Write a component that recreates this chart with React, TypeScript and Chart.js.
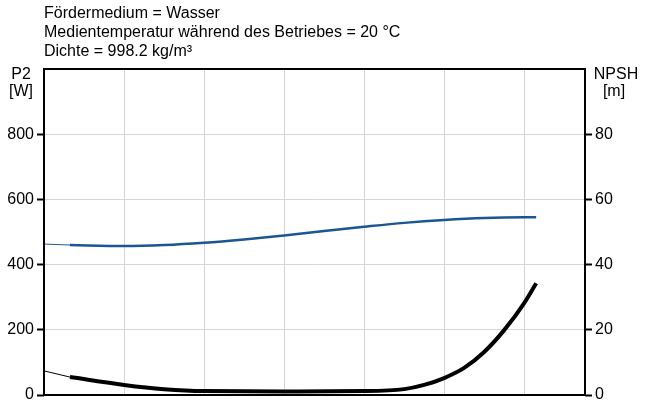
import React, { useEffect, useRef } from "react";
import { Chart, registerables } from "chart.js";

Chart.register(...registerables);

const titleLines = [
  "Fördermedium = Wasser",
  "Medientemperatur während des Betriebes = 20 °C",
  "Dichte = 998.2 kg/m³",
];

// flow axis (unlabelled) positions
const p2X = [0.325, 1, 1.5, 2, 2.5, 3, 3.5, 4, 4.5, 5, 5.5, 6, 6.15];
const p2Y = [460, 457, 460, 467, 477, 489, 503, 516, 528, 537, 543, 545, 545];
const p2ExtX = [0, 0.325];
const p2ExtY = [463, 460];

const npshX = [0.325, 1, 1.5, 2, 3, 4, 4.5, 4.75, 5, 5.25, 5.5, 5.75, 6, 6.15];
const npshY = [5.5, 3.1, 1.8, 1.2, 1.1, 1.2, 1.8, 3.1, 5.2, 8.3, 13.2, 19.9, 28.2, 34.3];
const npshExtX = [0, 0.325];
const npshExtY = [7.4, 5.5];

const xMax = 6.76;
const p2Max = 1000;
const npshMax = 100;

const zip = (xs: number[], ys: number[]) => xs.map((x, i) => ({ x, y: ys[i] }));

const FONT = "Liberation Sans, Arial, sans-serif";

const overlayPlugin = {
  id: "overlay",
  afterDatasetsDraw(chart: any) {
    const { ctx, chartArea } = chart;
    ctx.save();
    ctx.strokeStyle = "#000";
    ctx.lineWidth = 2;
    ctx.strokeRect(chartArea.left, chartArea.top, chartArea.right - chartArea.left, chartArea.bottom - chartArea.top);
    ctx.restore();
  },
  afterDraw(chart: any) {
    const { ctx, chartArea } = chart;
    ctx.save();
    ctx.fillStyle = "#000";
    ctx.font = `16px ${FONT}`;
    ctx.textBaseline = "middle";
    ctx.textAlign = "left";
    titleLines.forEach((t, i) => ctx.fillText(t, chartArea.left, 13.5 + i * 18.8));
    ctx.textAlign = "center";
    ctx.fillText("P2", 21, 75);
    ctx.fillText("[W]", 21, 92);
    ctx.fillText("NPSH", 616, 75);
    ctx.fillText("[m]", 614, 92);
    ctx.restore();
  },
};

export default function App() {
  const ref = useRef<HTMLCanvasElement>(null);
  useEffect(() => {
    document.body.style.margin = "0";
    const noPad = (s: any, w: number) => {
      s.width = w;
      s.paddingTop = 0;
      s.paddingBottom = 0;
    };
    const chart = new Chart(ref.current!, {
      type: "line",
      data: {
        datasets: [
          { data: zip(p2ExtX, p2ExtY), yAxisID: "y", borderColor: "#1d5a96", borderWidth: 1, pointRadius: 0 },
          { data: zip(p2X, p2Y), yAxisID: "y", borderColor: "#1a5694", borderWidth: 2.5, pointRadius: 0, cubicInterpolationMode: "monotone" },
          { data: zip(npshExtX, npshExtY), yAxisID: "y2", borderColor: "#000", borderWidth: 1, pointRadius: 0 },
          { data: zip(npshX, npshY), yAxisID: "y2", borderColor: "#000", borderWidth: 4, pointRadius: 0, cubicInterpolationMode: "monotone" },
        ],
      },
      options: {
        animation: false,
        responsive: false,
        maintainAspectRatio: false,
        layout: { padding: { top: 69, left: 0, right: 0, bottom: 0 } },
        plugins: { legend: { display: false }, tooltip: { enabled: false }, title: { display: false } },
        scales: {
          x: {
            type: "linear",
            min: 0,
            max: xMax,
            ticks: { display: false, stepSize: 1 },
            grid: {
              color: (c: any) => (c.tick && (c.tick.value === 0 || c.tick.value >= xMax) ? "transparent" : "#d3d6d9"),
              drawTicks: false,
              lineWidth: 1,
            },
            border: { display: false },
            afterFit: (s: any) => { s.height = 6; s.paddingLeft = 0; s.paddingRight = 0; },
          },
          y: {
            type: "linear",
            position: "left",
            min: 0,
            max: p2Max,
            ticks: {
              stepSize: 200,
              color: "#000",
              font: { size: 16, family: FONT },
              padding: 3,
              callback: (v: any) => (v >= p2Max ? "" : String(v)),
            },
            grid: {
              color: (c: any) => (c.tick && (c.tick.value === 0 || c.tick.value >= p2Max) ? "transparent" : "#d3d6d9"),
              tickColor: (c: any) => (c.tick && c.tick.value >= p2Max ? "transparent" : "#000"),
              tickLength: 7,
              tickWidth: 2,
              lineWidth: 1,
            },
            border: { display: false },
            afterFit: (s: any) => noPad(s, 44),
          },
          y2: {
            type: "linear",
            position: "right",
            min: 0,
            max: npshMax,
            ticks: {
              stepSize: 20,
              color: "#000",
              font: { size: 16, family: FONT },
              padding: 3,
              callback: (v: any) => (v >= npshMax ? "" : String(v)),
            },
            grid: {
              drawOnChartArea: false,
              tickColor: (c: any) => (c.tick && c.tick.value >= npshMax ? "transparent" : "#000"),
              tickLength: 7,
              tickWidth: 2,
            },
            border: { display: false },
            afterFit: (s: any) => noPad(s, 64),
          },
        },
      } as any,
      plugins: [overlayPlugin],
    });
    return () => chart.destroy();
  }, []);
  return (
    <div style={{ position: "fixed", left: 0, top: 0, width: 649, height: 401 }}>
      <canvas ref={ref} width={649} height={401} style={{ width: 649, height: 401, display: "block" }} />
    </div>
  );
}
